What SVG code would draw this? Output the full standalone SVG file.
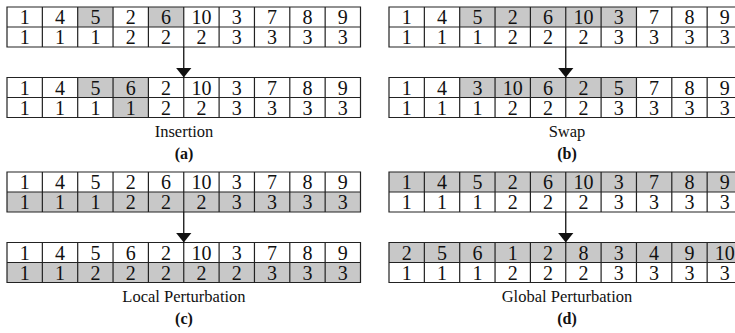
<svg xmlns="http://www.w3.org/2000/svg" width="735" height="333" viewBox="0 0 735 333">
<style>
.bg{fill:#fff}
.g{fill:#c8c8c8}
.grid{fill:none;stroke:#222;stroke-width:1.2}
.n{font-family:"Liberation Serif","Times New Roman",serif;font-size:20px;fill:#111;text-anchor:middle}
.lbl{font-family:"Liberation Serif","Times New Roman",serif;font-size:16.5px;fill:#111;text-anchor:middle}
.sub{font-family:"Liberation Serif","Times New Roman",serif;font-size:16px;font-weight:bold;fill:#111;text-anchor:middle}
.conn{stroke:#111;stroke-width:1.3;fill:none}
</style>
<defs>
<marker id="ah" viewBox="0 0 10 16" refX="10" refY="8" markerWidth="10" markerHeight="16" markerUnits="userSpaceOnUse" orient="auto">
<path d="M0,0 L10,8 L0,16 Z" fill="#111"/>
</marker>
<path id="gridpath" d="M0,0H353.5V40H0Z M0,20H353.5 M35.35,0V40 M70.7,0V40 M106.05,0V40 M141.4,0V40 M176.75,0V40 M212.1,0V40 M247.45,0V40 M282.8,0V40 M318.15,0V40"/>
</defs>

<g id="a-before" transform="translate(7,7)">
<rect class="bg" width="353.5" height="40"/>
<rect class="g" x="70.7" y="0" width="35.35" height="20"/>
<rect class="g" x="141.4" y="0" width="35.35" height="20"/>
<use href="#gridpath" class="grid"/>
<g class="n">
<text x="17.7" y="17">1</text><text x="53" y="17">4</text><text x="88.4" y="17">5</text><text x="123.7" y="17">2</text><text x="159.1" y="17">6</text><text x="194.4" y="17">10</text><text x="229.8" y="17">3</text><text x="265.1" y="17">7</text><text x="300.5" y="17">8</text><text x="335.8" y="17">9</text>
<text x="17.7" y="37">1</text><text x="53" y="37">1</text><text x="88.4" y="37">1</text><text x="123.7" y="37">2</text><text x="159.1" y="37">2</text><text x="194.4" y="37">2</text><text x="229.8" y="37">3</text><text x="265.1" y="37">3</text><text x="300.5" y="37">3</text><text x="335.8" y="37">3</text>
</g>
</g>

<g id="a-after" transform="translate(7,77.5)">
<rect class="bg" width="353.5" height="40"/>
<rect class="g" x="70.7" y="0" width="70.7" height="20"/>
<rect class="g" x="106.05" y="20" width="35.35" height="20"/>
<use href="#gridpath" class="grid"/>
<g class="n">
<text x="17.7" y="17">1</text><text x="53" y="17">4</text><text x="88.4" y="17">5</text><text x="123.7" y="17">6</text><text x="159.1" y="17">2</text><text x="194.4" y="17">10</text><text x="229.8" y="17">3</text><text x="265.1" y="17">7</text><text x="300.5" y="17">8</text><text x="335.8" y="17">9</text>
<text x="17.7" y="37">1</text><text x="53" y="37">1</text><text x="88.4" y="37">1</text><text x="123.7" y="37">1</text><text x="159.1" y="37">2</text><text x="194.4" y="37">2</text><text x="229.8" y="37">3</text><text x="265.1" y="37">3</text><text x="300.5" y="37">3</text><text x="335.8" y="37">3</text>
</g>
</g>

<g id="b-before" transform="translate(389,7)">
<rect class="bg" width="353.5" height="40"/>
<rect class="g" x="70.7" y="0" width="176.75" height="20"/>
<use href="#gridpath" class="grid"/>
<g class="n">
<text x="17.7" y="17">1</text><text x="53" y="17">4</text><text x="88.4" y="17">5</text><text x="123.7" y="17">2</text><text x="159.1" y="17">6</text><text x="194.4" y="17">10</text><text x="229.8" y="17">3</text><text x="265.1" y="17">7</text><text x="300.5" y="17">8</text><text x="335.8" y="17">9</text>
<text x="17.7" y="37">1</text><text x="53" y="37">1</text><text x="88.4" y="37">1</text><text x="123.7" y="37">2</text><text x="159.1" y="37">2</text><text x="194.4" y="37">2</text><text x="229.8" y="37">3</text><text x="265.1" y="37">3</text><text x="300.5" y="37">3</text><text x="335.8" y="37">3</text>
</g>
</g>

<g id="b-after" transform="translate(389,77.5)">
<rect class="bg" width="353.5" height="40"/>
<rect class="g" x="70.7" y="0" width="176.75" height="20"/>
<use href="#gridpath" class="grid"/>
<g class="n">
<text x="17.7" y="17">1</text><text x="53" y="17">4</text><text x="88.4" y="17">3</text><text x="123.7" y="17">10</text><text x="159.1" y="17">6</text><text x="194.4" y="17">2</text><text x="229.8" y="17">5</text><text x="265.1" y="17">7</text><text x="300.5" y="17">8</text><text x="335.8" y="17">9</text>
<text x="17.7" y="37">1</text><text x="53" y="37">1</text><text x="88.4" y="37">1</text><text x="123.7" y="37">2</text><text x="159.1" y="37">2</text><text x="194.4" y="37">2</text><text x="229.8" y="37">3</text><text x="265.1" y="37">3</text><text x="300.5" y="37">3</text><text x="335.8" y="37">3</text>
</g>
</g>

<g id="c-before" transform="translate(7,172)">
<rect class="bg" width="353.5" height="40"/>
<rect class="g" x="0" y="20" width="353.5" height="20"/>
<use href="#gridpath" class="grid"/>
<g class="n">
<text x="17.7" y="17">1</text><text x="53" y="17">4</text><text x="88.4" y="17">5</text><text x="123.7" y="17">2</text><text x="159.1" y="17">6</text><text x="194.4" y="17">10</text><text x="229.8" y="17">3</text><text x="265.1" y="17">7</text><text x="300.5" y="17">8</text><text x="335.8" y="17">9</text>
<text x="17.7" y="37">1</text><text x="53" y="37">1</text><text x="88.4" y="37">1</text><text x="123.7" y="37">2</text><text x="159.1" y="37">2</text><text x="194.4" y="37">2</text><text x="229.8" y="37">3</text><text x="265.1" y="37">3</text><text x="300.5" y="37">3</text><text x="335.8" y="37">3</text>
</g>
</g>

<g id="c-after" transform="translate(7,242.5)">
<rect class="bg" width="353.5" height="40"/>
<rect class="g" x="0" y="20" width="353.5" height="20"/>
<use href="#gridpath" class="grid"/>
<g class="n">
<text x="17.7" y="17">1</text><text x="53" y="17">4</text><text x="88.4" y="17">5</text><text x="123.7" y="17">6</text><text x="159.1" y="17">2</text><text x="194.4" y="17">10</text><text x="229.8" y="17">3</text><text x="265.1" y="17">7</text><text x="300.5" y="17">8</text><text x="335.8" y="17">9</text>
<text x="17.7" y="37">1</text><text x="53" y="37">1</text><text x="88.4" y="37">2</text><text x="123.7" y="37">2</text><text x="159.1" y="37">2</text><text x="194.4" y="37">2</text><text x="229.8" y="37">2</text><text x="265.1" y="37">3</text><text x="300.5" y="37">3</text><text x="335.8" y="37">3</text>
</g>
</g>

<g id="d-before" transform="translate(389,172)">
<rect class="bg" width="353.5" height="40"/>
<rect class="g" x="0" y="0" width="353.5" height="20"/>
<use href="#gridpath" class="grid"/>
<g class="n">
<text x="17.7" y="17">1</text><text x="53" y="17">4</text><text x="88.4" y="17">5</text><text x="123.7" y="17">2</text><text x="159.1" y="17">6</text><text x="194.4" y="17">10</text><text x="229.8" y="17">3</text><text x="265.1" y="17">7</text><text x="300.5" y="17">8</text><text x="335.8" y="17">9</text>
<text x="17.7" y="37">1</text><text x="53" y="37">1</text><text x="88.4" y="37">1</text><text x="123.7" y="37">2</text><text x="159.1" y="37">2</text><text x="194.4" y="37">2</text><text x="229.8" y="37">3</text><text x="265.1" y="37">3</text><text x="300.5" y="37">3</text><text x="335.8" y="37">3</text>
</g>
</g>

<g id="d-after" transform="translate(389,242.5)">
<rect class="bg" width="353.5" height="40"/>
<rect class="g" x="0" y="0" width="353.5" height="20"/>
<use href="#gridpath" class="grid"/>
<g class="n">
<text x="17.7" y="17">2</text><text x="53" y="17">5</text><text x="88.4" y="17">6</text><text x="123.7" y="17">1</text><text x="159.1" y="17">2</text><text x="194.4" y="17">8</text><text x="229.8" y="17">3</text><text x="265.1" y="17">4</text><text x="300.5" y="17">9</text><text x="335.8" y="17">10</text>
<text x="17.7" y="37">1</text><text x="53" y="37">1</text><text x="88.4" y="37">1</text><text x="123.7" y="37">2</text><text x="159.1" y="37">2</text><text x="194.4" y="37">2</text><text x="229.8" y="37">3</text><text x="265.1" y="37">3</text><text x="300.5" y="37">3</text><text x="335.8" y="37">3</text>
</g>
</g>

<g id="connectors">
<line class="conn" x1="183.75" y1="47" x2="183.75" y2="77.5" marker-end="url(#ah)"/>
<line class="conn" x1="565.75" y1="47" x2="565.75" y2="77.5" marker-end="url(#ah)"/>
<line class="conn" x1="183.75" y1="212" x2="183.75" y2="242.5" marker-end="url(#ah)"/>
<line class="conn" x1="565.75" y1="212" x2="565.75" y2="242.5" marker-end="url(#ah)"/>
</g>

<g id="labels">
<text class="lbl" x="184" y="137">Insertion</text>
<text class="sub" x="184" y="159">(a)</text>
<text class="lbl" x="567" y="137">Swap</text>
<text class="sub" x="567" y="159">(b)</text>
<text class="lbl" x="184" y="302">Local Perturbation</text>
<text class="sub" x="184" y="324">(c)</text>
<text class="lbl" x="567" y="302">Global Perturbation</text>
<text class="sub" x="567" y="324">(d)</text>
</g>
</svg>
